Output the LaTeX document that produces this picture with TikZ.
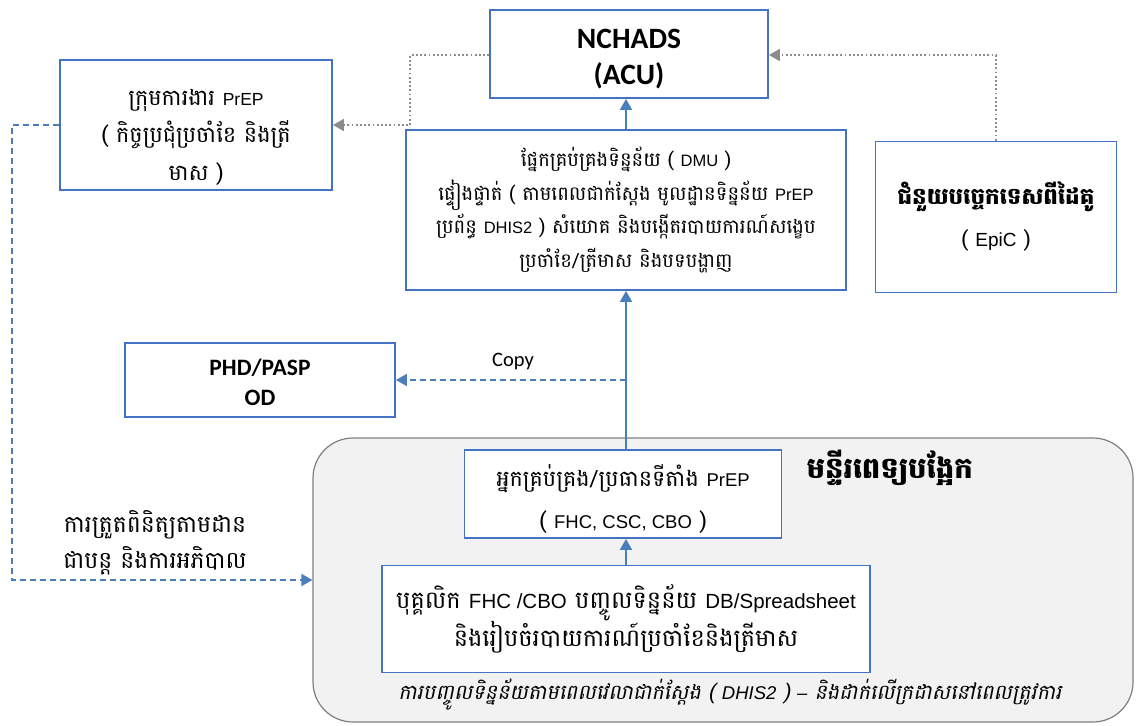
\documentclass[tikz,border=0pt]{standalone}
\usepackage{fontspec}
\usetikzlibrary{arrows.meta}
\setmainfont{Liberation Sans}
\newfontfamily\kh[Script=Khmer,Scale=1.12]{Battambang}
\newfontfamily\khi[Script=Khmer,Scale=1.12,FakeSlant=0.2]{Battambang}
\newfontfamily\lat{Liberation Sans}
\newfontfamily\carl{Carlito}
\newcommand{\dn}[2]{\raisebox{-#1}[\height][\depth]{\begin{tabular}{@{}c@{}}#2\end{tabular}}}
\newcommand{\LT}[2]{{\lat\fontsize{#1}{30}\selectfont #2}}
\definecolor{bblue}{HTML}{4472C4}
\definecolor{ablue}{HTML}{4A7EBB}
\definecolor{dgrey}{HTML}{8C8C8C}
\definecolor{cfill}{HTML}{F2F2F2}
\definecolor{cdraw}{HTML}{7F7F7F}
\tikzset{
  box/.style={draw=bblue, line width=1.8pt, fill=white, align=center, inner sep=0pt, anchor=center},
  solidarr/.style={draw=ablue, line width=1.8pt, -{Triangle[width=12pt,length=11pt]}},
  dasharr/.style={draw=ablue, line width=1.8pt, dash pattern=on 6pt off 4pt, -{Triangle[width=12pt,length=11pt]}},
  dotarr/.style={draw=dgrey, line width=1.8pt, dash pattern=on 1.8pt off 2.4pt, -{Triangle[width=12pt,length=11pt,fill=dgrey]}},
}
\begin{document}
\begin{tikzpicture}[x=1pt,y=-1pt]
\useasboundingbox (0,0) rectangle (1136,726);
% container
\node[draw=cdraw, line width=1.2pt, fill=cfill, rounded corners=40pt, minimum width=820pt, minimum height=284pt, inner sep=0pt] (cont) at (723,580) {};
% boxes
\node[box, minimum width=278pt, minimum height=88pt, font=\carl\bfseries\fontsize{29.5}{36}\selectfont] (nchads) at (629,54) {\dn{5pt}{NCHADS\\(ACU)}};
\node[box, minimum width=272pt, minimum height=130pt, font=\kh\fontsize{20}{37.5}\selectfont] (prep) at (196,125) {\dn{10pt}{ក្រុមការងារ \LT{17.5}{PrEP}\\( កិច្ចប្រជុំប្រចាំខែ និងត្រី\\មាស )}};
\node[box, minimum width=440pt, minimum height=160pt, font=\kh\fontsize{17.5}{33.5}\selectfont] (dmu) at (626,210) {ផ្នែកគ្រប់គ្រងទិន្នន័យ ( \LT{16.5}{DMU} )\\ផ្ទៀងផ្ទាត់ ( តាមពេលជាក់ស្តែង មូលដ្ឋានទិន្នន័យ \LT{16.5}{PrEP}\\ប្រព័ន្ធ \LT{16.5}{DHIS2} ) សំយោគ និងបង្កើតរបាយការណ៍សង្ខេប\\ប្រចាំខែ/ត្រីមាស និងបទបង្ហាញ};
\node[box, minimum width=241pt, minimum height=151pt, font=\kh\fontsize{20.5}{42}\selectfont] (epic) at (996,217) {\textbf{ជំនួយបច្ចេកទេសពីដៃគូ}\\{\fontsize{19}{20}\selectfont ( {\lat EpiC} )}};
\node[box, minimum width=270pt, minimum height=74pt, font=\carl\bfseries\fontsize{23.5}{30}\selectfont] (phd) at (260,380) {\dn{4pt}{PHD/PASP\\OD}};
\node[box, minimum width=317pt, minimum height=88pt, font=\kh\fontsize{20}{42}\selectfont] (mgr) at (623,494) {\dn{5pt}{អ្នកគ្រប់គ្រង/ប្រធានទីតាំង \LT{18.5}{PrEP}\\( \LT{18.5}{FHC, CSC, CBO} )}};
\node[box, minimum width=488pt, minimum height=107pt, font=\kh\fontsize{21.5}{37}\selectfont] (staff) at (626,619) {បុគ្គលិក \LT{20.5}{FHC /CBO} បញ្ចូលទិន្នន័យ \LT{20.5}{DB/Spreadsheet}\\និងរៀបចំរបាយការណ៍ប្រចាំខែនិងត្រីមាស};
% labels
\node[font=\kh\bfseries\fontsize{26}{30}\selectfont, anchor=west] (title) at (803,468) {មន្ទីរពេទ្យបង្អែក};
\node[font=\khi\fontsize{18.5}{22}\selectfont] (cap) at (730,694) {ការបញ្ចូលទិន្នន័យតាមពេលវេលាជាក់ស្តែង ( {\lat\itshape DHIS2} ) {\lat\itshape –} និងដាក់លើក្រដាសនៅពេលត្រូវការ};
\node[font=\kh\fontsize{21}{36}\selectfont, align=center] (mon) at (155,543) {ការត្រួតពិនិត្យតាមដាន\\ជាបន្ត និងការអភិបាល};
\node[font=\carl\fontsize{20.5}{24}\selectfont] (copy) at (513,361) {Copy};
% connectors
\draw[solidarr] (dmu.north) -- (dmu.north |- nchads.south);
\draw[solidarr] (mgr.north -| dmu.south) -- (dmu.south);
\draw[solidarr] (staff.north) -- (staff.north |- mgr.south);
\draw[dasharr] (626,380) -- (phd.east);
\draw[dotarr] (nchads.west |- 0,55) -- (410,55) -- (410,125) -- (prep.east);
\draw[dotarr] (epic.north) -- (996,55) -- (nchads.east |- 0,55);
\draw[dasharr] (prep.west) -- (12,125) -- (12,580) -- (cont.west);
\end{tikzpicture}
\end{document}
